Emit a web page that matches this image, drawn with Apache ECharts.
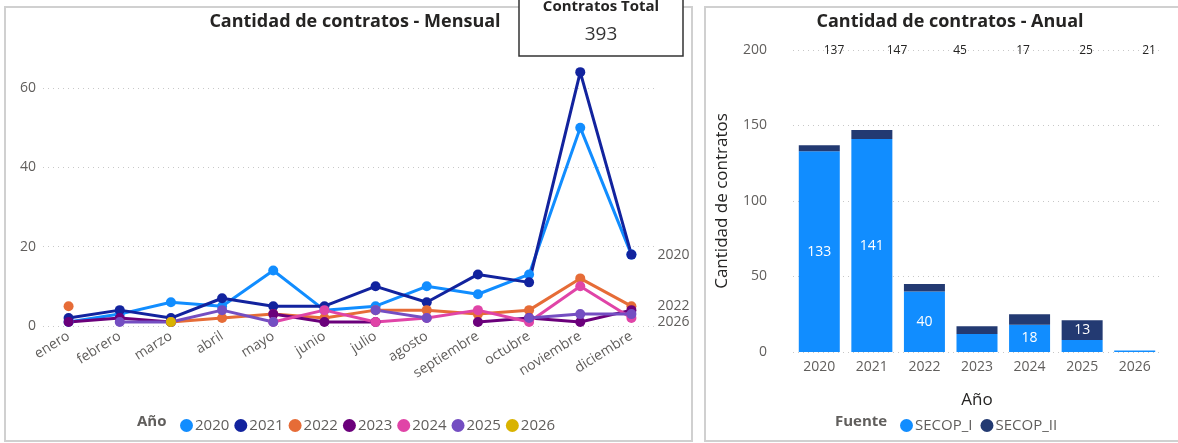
<!DOCTYPE html>
<html>
<head>
<meta charset="utf-8">
<script src="https://cdn.jsdelivr.net/npm/echarts@6/dist/echarts.min.js"></script>
<style>
  html, body { margin: 0; padding: 0; background: #fff; }
  #chart { width: 1178px; height: 443px; }
</style>
</head>
<body>
<div id="chart"></div>
<script>
// monthly contracts per year
const months = ['enero', 'febrero', 'marzo', 'abril', 'mayo', 'junio', 'julio',
  'agosto', 'septiembre', 'octubre', 'noviembre', 'diciembre'];
const y2020 = [1, 3, 6, 5, 14, 4, 5, 10, 8, 13, 50, 18];
const y2021 = [2, 4, 2, 7, 5, 5, 10, 6, 13, 11, 64, 18];
const y2022 = [5, null, 1, 2, 3, 2, 4, 4, 3, 4, 12, 5];
const y2023 = [1, 2, 1, null, 3, 1, 1, null, 1, 2, 1, 4];
const y2024 = [null, null, null, null, 1, 4, 1, 2, 4, 1, 10, 2];
const y2025 = [null, 1, 1, 4, 1, null, 4, 2, null, 2, 3, 3];
const y2026 = [null, null, 1, null, null, null, null, null, null, null, null, null];
const monthTicks = [0, 20, 40, 60];

// yearly contracts per source
const years = ['2020', '2021', '2022', '2023', '2024', '2025', '2026'];
const secopI = [133, 141, 40, 12, 18, 8, 1];
const secopII = [4, 6, 5, 5, 7, 13, 0];
const yearTicks = [0, 50, 100, 150, 200];
const totalCard = 393;

const gray = '#605E5C';
const font = '"Segoe UI", "Open Sans", sans-serif';

const lineSeries = [
  { name: '2020', data: y2020, color: '#118DFF', endLabel: true },
  { name: '2021', data: y2021, color: '#12239E' },
  { name: '2022', data: y2022, color: '#E66C37', endLabel: true },
  { name: '2023', data: y2023, color: '#6B007B' },
  { name: '2024', data: y2024, color: '#E044A7' },
  { name: '2025', data: y2025, color: '#744EC2' },
  { name: '2026', data: y2026, color: '#D9B300', endLabel: true },
];

const lastValue = arr => arr.filter(v => v != null).slice(-1)[0];
const totals = secopI.map((v, i) => v + secopII[i]);

const chart = echarts.init(document.getElementById('chart'));

chart.setOption({
  animation: false,
  textStyle: { fontFamily: font },
  title: [
    {
      text: 'Cantidad de contratos - Mensual', left: 350, top: 8, textAlign: 'center',
      textStyle: { fontSize: 18, fontWeight: 'bold', color: '#252423', fontFamily: font }
    },
    {
      text: 'Cantidad de contratos - Anual', left: 945, top: 8, textAlign: 'center',
      textStyle: { fontSize: 18, fontWeight: 'bold', color: '#252423', fontFamily: font }
    }
  ],
  legend: [
    {
      left: 175, top: 413, icon: 'circle', itemWidth: 13, itemHeight: 13, itemGap: 5,
      textStyle: { fontSize: 15, color: gray, padding: [0, 0, 0, -3] },
      data: lineSeries.map(s => s.name)
    },
    {
      left: 895, top: 413, icon: 'circle', itemWidth: 13, itemHeight: 13, itemGap: 8,
      textStyle: { fontSize: 15, color: gray, padding: [0, 0, 0, -3] },
      data: ['SECOP_I', 'SECOP_II']
    }
  ],
  grid: [
    { left: 43, right: 521, top: 88, bottom: 117 },
    { left: 793, right: 17, top: 50, bottom: 91 },
    { left: 834, right: 29, top: 58, height: 1 }
  ],
  xAxis: [
    {
      type: 'category', gridIndex: 0, data: months,
      axisLine: { show: false }, axisTick: { show: false },
      axisLabel: { rotate: 32, color: gray, fontSize: 14, margin: 9 }
    },
    {
      type: 'category', gridIndex: 1, data: years,
      axisLine: { show: false }, axisTick: { show: false },
      axisLabel: { color: gray, fontSize: 14, margin: 8 },
      name: 'Año', nameLocation: 'middle', nameGap: 40,
      nameTextStyle: { fontSize: 17, color: '#252423' }
    },
    {
      type: 'category', gridIndex: 2, position: 'top', boundaryGap: false,
      data: totals.slice(0, 6).map(String),
      axisLine: { show: false }, axisTick: { show: false },
      axisLabel: { color: '#252423', fontSize: 12, margin: 1, interval: 0 }
    }
  ],
  yAxis: [
    {
      type: 'value', gridIndex: 0, min: monthTicks[0], max: monthTicks[monthTicks.length - 1],
      interval: 20,
      axisLabel: { color: gray, fontSize: 14, margin: 7 },
      splitLine: { lineStyle: { type: [1, 4], color: '#C8C8C8' } }
    },
    {
      type: 'value', gridIndex: 1, min: yearTicks[0], max: yearTicks[yearTicks.length - 1],
      interval: 50,
      axisLabel: { color: gray, fontSize: 14, margin: 26 },
      splitLine: { lineStyle: { type: [1, 4], color: '#C8C8C8' } },
      name: 'Cantidad de contratos', nameLocation: 'middle', nameGap: 62,
      nameTextStyle: { fontSize: 17, color: '#252423' }
    },
    { type: 'value', gridIndex: 2, show: false }
  ],
  graphic: [
    {
      type: 'rect', z: -10, silent: true,
      shape: { x: 5, y: 7, width: 687, height: 434 },
      style: { fill: '#fff', stroke: '#D0D0D0', lineWidth: 2 }
    },
    {
      type: 'rect', z: -10, silent: true,
      shape: { x: 705, y: 7, width: 480, height: 434 },
      style: { fill: '#fff', stroke: '#D0D0D0', lineWidth: 2 }
    },
    {
      type: 'text', left: 137, top: 414,
      style: { text: 'Año', fontSize: 15, fontWeight: 'bold', fill: gray, fontFamily: font }
    },
    {
      type: 'text', left: 835, top: 414,
      style: { text: 'Fuente', fontSize: 15, fontWeight: 'bold', fill: gray, fontFamily: font }
    },
    {
      type: 'group', z: 100,
      children: [
        {
          type: 'rect',
          shape: { x: 519, y: -5, width: 164, height: 61 },
          style: { fill: '#fff', stroke: '#333', lineWidth: 1.5 }
        },
        {
          type: 'text', x: 601, y: 7,
          style: {
            text: 'Contratos Total', fontSize: 15, fontWeight: 'bold', fill: '#252423',
            align: 'center', verticalAlign: 'middle', fontFamily: font
          }
        },
        {
          type: 'text', x: 601, y: 35,
          style: {
            text: String(totalCard), fontSize: 19, fill: '#333',
            align: 'center', verticalAlign: 'middle', fontFamily: font
          }
        }
      ]
    }
  ],
  series: [
    ...lineSeries.map(s => ({
      name: s.name, type: 'line', xAxisIndex: 0, yAxisIndex: 0,
      data: s.data, clip: false, symbol: 'circle', symbolSize: 10,
      itemStyle: { color: s.color }, lineStyle: { width: 3, color: s.color },
      markPoint: s.endLabel ? {
        symbol: 'circle', symbolSize: 0,
        data: [{ coord: [months[months.length - 1], lastValue(s.data)] }],
        label: {
          show: true, position: 'right', distance: 26, formatter: s.name,
          color: gray, fontSize: 14
        }
      } : undefined
    })),
    {
      name: 'SECOP_I', type: 'bar', stack: 'fuente', xAxisIndex: 1, yAxisIndex: 1,
      data: secopI, barWidth: 41, itemStyle: { color: '#118DFF' },
      label: {
        show: true, position: 'inside', color: '#fff', fontSize: 14,
        formatter: p => (p.value >= 13 ? p.value : '')
      }
    },
    {
      name: 'SECOP_II', type: 'bar', stack: 'fuente', xAxisIndex: 1, yAxisIndex: 1,
      data: secopII, barWidth: 41, itemStyle: { color: '#233A72' },
      label: {
        show: true, position: 'inside', color: '#fff', fontSize: 14,
        formatter: p => (p.value >= 13 ? p.value : '')
      }
    }
  ]
});
</script>
</body>
</html>
